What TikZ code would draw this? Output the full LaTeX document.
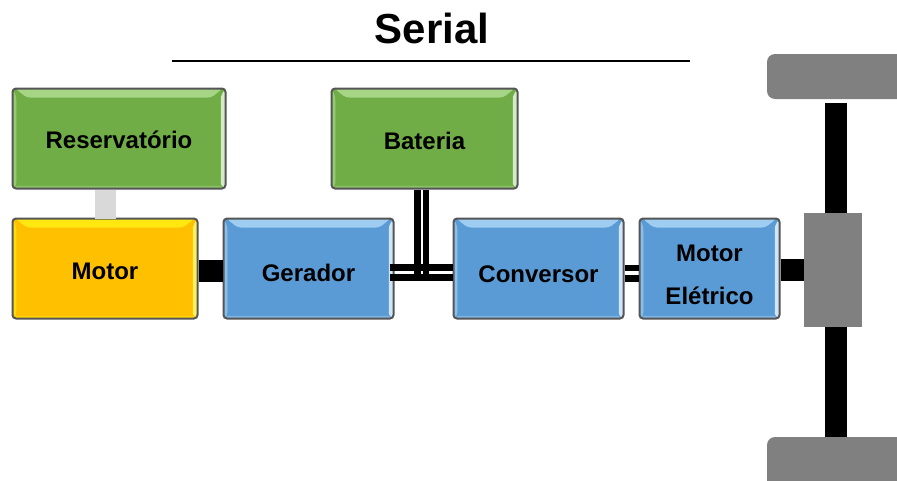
\documentclass[tikz,border=0pt]{standalone}
\usepackage{fontspec}
\setmainfont{Liberation Sans}
\begin{document}
\begin{tikzpicture}[x=1pt,y=-1pt,
  bevelbox/.style n args={4}{draw=#4, line width=2pt, rounded corners=3.5pt, fill=#1,
    inner sep=0pt, font=\fontsize{24}{43}\selectfont\bfseries, align=center,
    path picture={
      \coordinate (nw) at (path picture bounding box.north west);
      \coordinate (se) at (path picture bounding box.south east);
      \fill[#2!70!#1] (nw) -- ([shift={(4pt,-8pt)}]nw) -- ([shift={(4pt,3pt)}]nw |- se) -- (nw |- se) -- cycle;
      \fill[#3] (nw -| se) -- ([shift={(-5pt,-8pt)}]nw -| se) -- ([shift={(-5pt,3pt)}]se) -- (se) -- cycle;
      \fill[#2!50!#1] (nw |- se) -- ([shift={(4pt,3pt)}]nw |- se) -- ([shift={(-5pt,3pt)}]se) -- (se) -- cycle;
      \fill[#1] ([shift={(4pt,-3pt)}]nw) -- ([shift={(-5pt,-3pt)}]nw -| se) -- ([shift={(-5pt,3pt)}]se) -- ([shift={(4pt,3pt)}]nw |- se) -- cycle;
      \fill[#2] ([shift={(3pt,0pt)}]nw) -- ([shift={(-3pt,0pt)}]nw -| se) -- ([shift={(-14pt,-9pt)}]nw -| se) -- ([shift={(14pt,-9pt)}]nw) -- cycle;
    }},
  greenbox/.style={bevelbox={green1}{green2}{green3}{gray1}},
  bluebox/.style={bevelbox={blue1}{blue2}{blue3}{gray1}},
  yellowbox/.style={bevelbox={yellow1}{yellow2}{yellow3}{gray1}},
  greyblock/.style={fill=gray2, draw=none, inner sep=0pt},
  wheelblock/.style={fill=gray2, draw=none, inner sep=0pt, rounded corners=8pt},
  shaft/.style={draw=black, line width=22pt},
  wire/.style={draw=black, line width=6.5pt},
  fuel/.style={draw=gray3, line width=21pt},
  titletext/.style={inner sep=0pt, font=\fontsize{42}{48}\selectfont\bfseries},
  titlerule/.style={draw=black, line width=1.8pt}
]
\definecolor{green1}{HTML}{70AD47}
\definecolor{green2}{HTML}{A5D585}
\definecolor{green3}{HTML}{D5EAC8}
\definecolor{blue1}{HTML}{5B9BD5}
\definecolor{blue2}{HTML}{9FCDF2}
\definecolor{blue3}{HTML}{CFE6F8}
\definecolor{yellow1}{HTML}{FFC000}
\definecolor{yellow2}{HTML}{FFE810}
\definecolor{yellow3}{HTML}{FFF060}
\definecolor{gray1}{HTML}{555555}
\definecolor{gray2}{HTML}{808080}
\definecolor{gray3}{HTML}{D9D9D9}
\clip (0,0) rectangle (897,480);

% title
\node[titletext] (title) at (432,28) {Serial};
\coordinate (ruleL) at (172,61);
\coordinate (ruleR) at (690,61);
\draw[titlerule] (ruleL) -- (ruleR);

% boxes
\node[greenbox, minimum width=213pt, minimum height=100pt] (res) at (119,138.5) {\rule{0pt}{20pt}Reservatório};
\node[greenbox, minimum width=186pt, minimum height=100pt] (bat) at (424.5,138.5) {\rule{0pt}{22pt}Bateria};
\node[yellowbox, minimum width=185pt, minimum height=100pt] (mot) at (105,268.5) {\rule{0pt}{22pt}Motor};
\node[bluebox, minimum width=170pt, minimum height=100pt] (ger) at (308.5,268.5) {\rule{0pt}{26pt}Gerador};
\node[bluebox, minimum width=170pt, minimum height=100pt] (con) at (538.5,268.5) {\rule{0pt}{28pt}Conversor};
\node[bluebox, minimum width=140pt, minimum height=100pt] (ele) at (709.5,268.5) {\rule{0pt}{29pt}Motor\\[0pt]Elétrico};

% drivetrain blocks
\node[wheelblock, minimum width=150pt, minimum height=45pt] (wt) at (842,76.5) {};
\node[wheelblock, minimum width=150pt, minimum height=60pt] (wb) at (842,467) {};
\node[greyblock, minimum width=58pt, minimum height=114pt] (gear) at (833,270) {};

% connectors
\coordinate (axis) at (836,0);
\coordinate (busb) at (0,278);
\draw[fuel] ([xshift=-13.5pt]res.south) -- ([xshift=-13.5pt,yshift=-29pt]res.south);
\draw[shaft] ([yshift=-2.5pt]mot.east) -- ([yshift=-2.5pt]ger.west);
\draw[shaft] ([yshift=-1.5pt]ele.east) -- (gear.west);
\draw[shaft, shorten >=4pt] (gear.north -| axis) -- (wt.south -| axis);
\draw[shaft] (gear.south -| axis) -- (wb.north -| axis);
\draw[wire] ([shift={(-5pt,1.2pt)}]ger.east) -- ([yshift=1.2pt]con.west);
\draw[wire] ([shift={(-5pt,-8.8pt)}]ger.east) -- ([yshift=-8.8pt]con.west);
\draw[wire] ([yshift=0.5pt]con.east) -- ([yshift=0.5pt]ele.west);
\draw[wire] ([yshift=-9.8pt]con.east) -- ([yshift=-9.8pt]ele.west);
\draw[wire] ([xshift=-7pt]bat.south) -- ([xshift=-7pt]bat.south |- busb);
\draw[wire] ([xshift=1.5pt]bat.south) -- ([xshift=1.5pt]bat.south |- busb);
\end{tikzpicture}
\end{document}
